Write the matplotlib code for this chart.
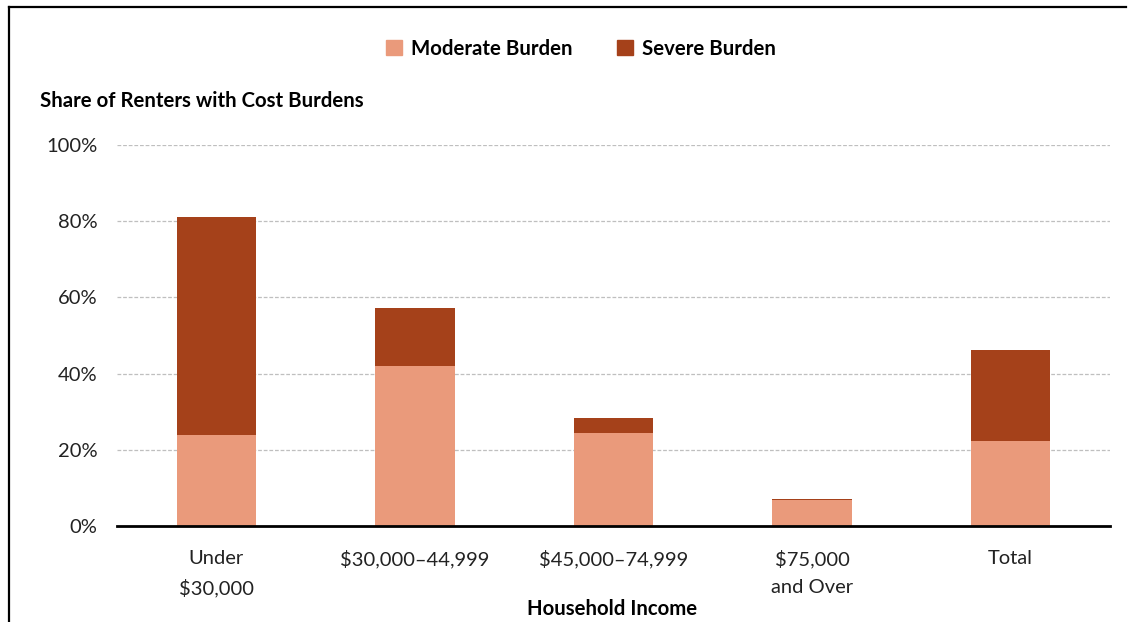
import matplotlib.pyplot as plt
from matplotlib.lines import Line2D
from matplotlib.patches import Patch
import numpy as np

plt.rcParams['font.family'] = ['Lato', 'DejaVu Sans']

# data (share of renter households)
categories = ["Under\n$30,000", "$30,000\u201344,999", "$45,000\u201374,999",
              "$75,000\nand Over", "Total"]
moderate = [23.9, 42.0, 24.4, 6.8, 22.3]
severe = [57.2, 15.2, 3.9, 0.3, 23.9]

moderate_color = "#EA9A7B"
severe_color = "#A5411A"

fig = plt.figure(figsize=(11.3, 6.22), dpi=100)
ax = fig.add_axes([117 / 1130, 1 - 526 / 622, (1110 - 117) / 1130, (526 - 145) / 622])

x = np.arange(len(categories))
ax.bar(x, moderate, width=0.4, color=moderate_color, zorder=3)
ax.bar(x, severe, width=0.4, bottom=moderate, color=severe_color, zorder=3)

ax.set_xlim(-0.5, len(categories) - 0.5)
ax.set_ylim(0, 100)
ax.set_yticks([0, 20, 40, 60, 80, 100])
ax.set_yticklabels(["{}%".format(v) for v in [0, 20, 40, 60, 80, 100]])
ax.set_xticks(x)
ax.set_xticklabels(categories, linespacing=1.75)
ax.tick_params(axis='both', length=0, labelsize=14.5, colors="#222222")
ax.tick_params(axis='y', pad=14)
ax.tick_params(axis='x', pad=17)

# dashed grid lines
for v in [20, 40, 60, 80, 100]:
    ax.axhline(v, color="#BFBFBF", lw=0.9, ls=(0, (3, 1.5)), zorder=1)

for side in ['top', 'right', 'left']:
    ax.spines[side].set_visible(False)
ax.spines['bottom'].set_linewidth(2)
ax.spines['bottom'].set_zorder(4)

fig.text(40 / 1130, 1 - 101 / 622, "Share of Renters with Cost Burdens",
         fontsize=14.7, fontweight='bold', va='center', ha='left')
fig.text(612 / 1130, 1 - 609 / 622, "Household Income",
         fontsize=14.7, fontweight='bold', va='center', ha='center')

handles = [Patch(color=moderate_color, label="Moderate Burden"),
           Patch(color=severe_color, label="Severe Burden")]
fig.legend(handles=handles, loc='center', bbox_to_anchor=(581 / 1130, 1 - 49 / 622),
           ncol=2, frameon=False, handlelength=0.75, handleheight=0.75,
           handletextpad=0.45, columnspacing=2.2,
           prop={'size': 14.7, 'weight': 'bold'})

# outer frame (top and left edges)
fig.add_artist(Line2D([9 / 1130, 1126 / 1130], [1 - 7 / 622, 1 - 7 / 622],
                      color="black", lw=1.6, transform=fig.transFigure))
fig.add_artist(Line2D([9 / 1130, 9 / 1130], [0, 1 - 7 / 622],
                      color="black", lw=1.6, transform=fig.transFigure))

fig.savefig("out.png", dpi=100)
